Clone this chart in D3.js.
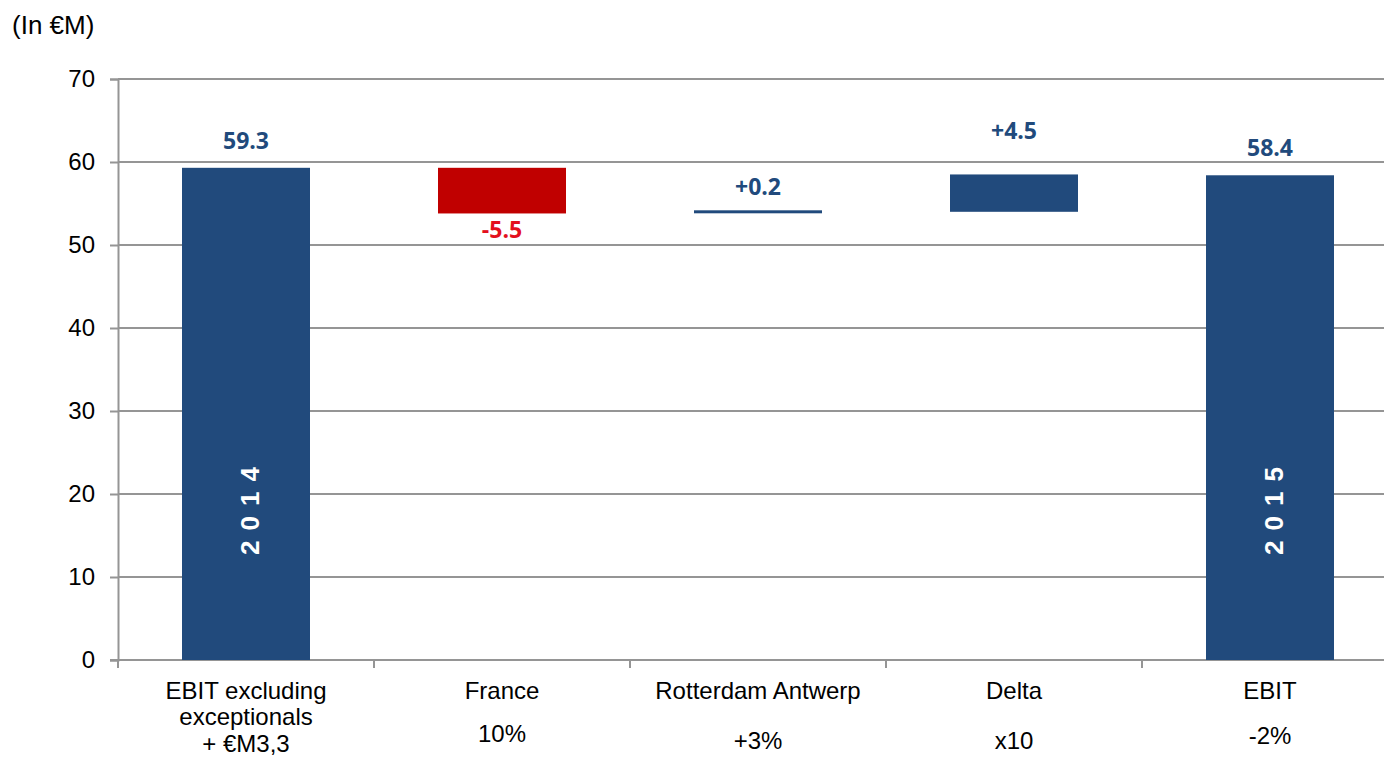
<!DOCTYPE html>
<html>
<head>
<meta charset="utf-8">
<script src="https://cdn.jsdelivr.net/npm/d3@7"></script>
<style>
  body { margin: 0; background: #fff; }
  svg { display: block; }
</style>
</head>
<body>
<div id="chart"></div>
<script>
// data
var categories = ["EBIT excluding exceptionals", "France", "Rotterdam Antwerp", "Delta", "EBIT"];
var catLines = [["EBIT excluding", "exceptionals", "+ \u20acM3,3"], ["France"], ["Rotterdam Antwerp"], ["Delta"], ["EBIT"]];
var subLabels = ["", "10%", "+3%", "x10", "-2%"];
var changes = [59.3, -5.5, 0.2, 4.5, 58.4];
var kinds = ["total", "delta", "delta", "delta", "total"];
var valueLabels = ["59.3", "-5.5", "+0.2", "+4.5", "58.4"];
var yearLabels = ["2014", "", "", "", "2015"];
var yTicks = [0, 10, 20, 30, 40, 50, 60, 70];

var svgWidth = 1384, svgHeight = 757;
var margin = {top: 79, left: 118};
var width = 1280, height = 581;

var navy = "#214a7c", red = "#c00000", redText = "#e3101d";
var arial = "'Liberation Sans', Arial, sans-serif";

var svg = d3.select("#chart").append("svg")
  .attr("width", svgWidth)
  .attr("height", svgHeight);

var chartGroup = svg.append("g")
  .attr("transform", `translate(${margin.left}, ${margin.top})`);

var x = d3.scaleBand().domain(categories).range([0, width]).paddingInner(0).paddingOuter(0);
var y = d3.scaleLinear().domain([0, 70]).range([height, 0]);

// waterfall steps
var running = 0;
var steps = categories.map(function(c, i) {
  var s;
  if (kinds[i] == "total") {
    s = {cat: c, lo: 0, hi: changes[i], v: changes[i]};
    running = changes[i];
  } else {
    var start = running;
    running = running + changes[i];
    s = {cat: c, lo: Math.min(start, running), hi: Math.max(start, running), v: changes[i]};
  }
  s.i = i;
  return s;
});

// gridlines
chartGroup.append("g")
  .selectAll("line")
  .data(yTicks.filter(d => d > 0))
  .enter()
  .append("line")
  .attr("x1", 0)
  .attr("x2", svgWidth - margin.left)
  .attr("y1", d => y(d))
  .attr("y2", d => y(d))
  .attr("stroke", "#959595")
  .attr("stroke-width", 2);

// y axis
var yAxis = d3.axisLeft(y).tickValues(yTicks).tickSize(8).tickPadding(15);
var yG = chartGroup.append("g").call(yAxis);
yG.select(".domain").attr("stroke", "#959595").attr("stroke-width", 2);
yG.selectAll(".tick line").attr("stroke", "#959595").attr("stroke-width", 2);
yG.selectAll(".tick text")
  .attr("fill", "#000")
  .style("font-family", arial)
  .style("font-size", "24px");

// x axis line and ticks at band boundaries
var xG = chartGroup.append("g").attr("transform", `translate(0, ${height})`);
xG.append("line")
  .attr("x1", -8).attr("x2", svgWidth - margin.left)
  .attr("stroke", "#959595").attr("stroke-width", 2);
xG.selectAll("line.tk")
  .data(categories)
  .enter()
  .append("line")
  .attr("class", "tk")
  .attr("x1", d => x(d)).attr("x2", d => x(d))
  .attr("y1", 0).attr("y2", 8)
  .attr("stroke", "#959595").attr("stroke-width", 2);

// bars
var barW = x.bandwidth() * 0.5;
chartGroup.selectAll("rect.bar")
  .data(steps)
  .enter()
  .append("rect")
  .attr("class", "bar")
  .attr("x", d => x(d.cat) + (x.bandwidth() - barW) / 2)
  .attr("width", barW)
  .attr("y", d => Math.abs(d.v) < 0.5 ? y(d.hi) - 1.5 : y(d.hi))
  .attr("height", d => Math.abs(d.v) < 0.5 ? 3 : y(d.lo) - y(d.hi))
  .attr("fill", d => d.v < 0 ? red : navy);

// value labels
chartGroup.selectAll("text.val")
  .data(steps)
  .enter()
  .append("text")
  .attr("class", "val")
  .attr("x", d => x(d.cat) + x.bandwidth() / 2)
  .attr("y", function(d) {
    if (d.v < 0) return y(d.lo) + 25;
    if (kinds[d.i] == "delta" && d.v > 1) return y(d.hi) - 35;
    if (kinds[d.i] == "delta") return y(d.hi) - 17;
    return y(d.hi) - 19;
  })
  .attr("text-anchor", "middle")
  .attr("fill", d => d.v < 0 ? redText : navy)
  .style("font-family", "'Open Sans', 'Noto Sans', sans-serif")
  .style("font-weight", "bold")
  .style("font-size", "23px")
  .text((d, i) => valueLabels[i]);

// year labels inside totals
chartGroup.selectAll("text.year")
  .data(steps.filter(d => yearLabels[d.i] != ""))
  .enter()
  .append("text")
  .attr("class", "year")
  .attr("transform", d => `translate(${x(d.cat) + x.bandwidth() / 2 + 13}, ${y(0) - 154}) rotate(-90)`)
  .attr("text-anchor", "middle")
  .attr("fill", "#fff")
  .style("font-family", arial)
  .style("font-weight", "bold")
  .style("font-size", "26px")
  .style("letter-spacing", "10px")
  .text(d => yearLabels[d.i]);

// category labels
var catG = chartGroup.selectAll("g.cat")
  .data(categories)
  .enter()
  .append("g")
  .attr("class", "cat")
  .attr("transform", d => `translate(${x(d) + x.bandwidth() / 2}, ${height})`);

catG.each(function(d, i) {
  var g = d3.select(this);
  catLines[i].forEach(function(t, j) {
    g.append("text")
      .attr("y", 38.5 + j * 26.5)
      .attr("text-anchor", "middle")
      .attr("fill", "#000")
      .style("font-family", arial)
      .style("font-size", "24px")
      .text(t);
  });
  if (subLabels[i] != "") {
    var dy = [0, 82, 89, 89, 84][i];
    g.append("text")
      .attr("y", dy)
      .attr("text-anchor", "middle")
      .attr("fill", "#000")
      .style("font-family", arial)
      .style("font-size", "24px")
      .text(subLabels[i]);
  }
});

// unit label
svg.append("text")
  .attr("x", 12)
  .attr("y", 34)
  .attr("fill", "#000")
  .style("font-family", arial)
  .style("font-size", "26px")
  .text("(In \u20acM)");
</script>
</body>
</html>
